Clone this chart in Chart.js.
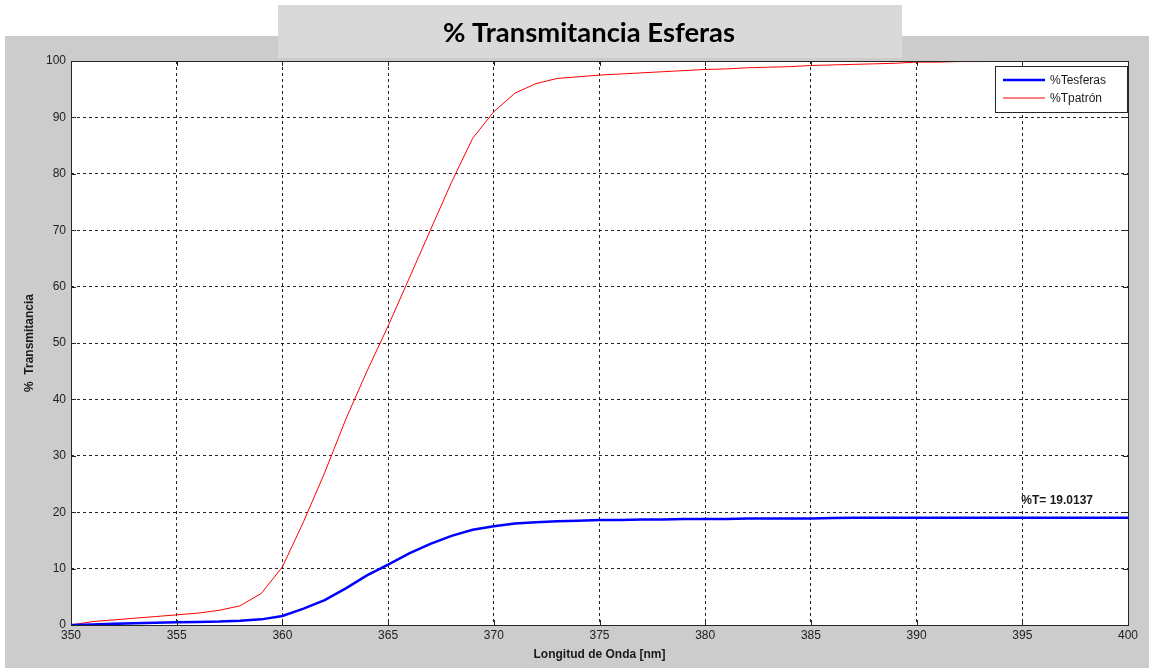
<!DOCTYPE html>
<html>
<head>
<meta charset="utf-8">
<title>% Transmitancia Esferas</title>
<script src="https://cdn.jsdelivr.net/npm/chart.js@4.4.1/dist/chart.umd.min.js"></script>
<style>
  html, body { margin: 0; padding: 0; background: #ffffff; }
  #wrap { position: relative; width: 1149px; height: 668px; }
</style>
</head>
<body>
<div id="wrap"><canvas id="c"></canvas></div>
<script>
// Wavelengths [nm]
const wavelengths = [350,351,352,353,354,355,356,357,358,359,360,361,362,363,364,365,366,367,368,369,370,371,372,373,374,375,376,377,378,379,380,381,382,383,384,385,386,387,388,389,390,391,392,393,394,395,396,397,398,399,400];

// %T of the spheres sample
const tEsferas = [0.0,0.1,0.2,0.3,0.4,0.5,0.55,0.6,0.75,1.0,1.6,2.9,4.4,6.5,8.8,10.7,12.7,14.4,15.8,16.9,17.5,18.0,18.2,18.4,18.5,18.6,18.6,18.7,18.7,18.8,18.8,18.8,18.9,18.9,18.9,18.9,18.95,19.0,19.0,19.0,19.0,19.0,19.0,19.01,19.01,19.0137,19.02,19.02,19.02,19.03,19.03];

// %T of the reference standard
const tPatron = [0.0,0.6,0.9,1.2,1.5,1.8,2.1,2.6,3.4,5.6,10.3,18.3,27.0,36.5,45.0,53.0,61.5,70.0,78.5,86.3,91.0,94.3,96.0,96.9,97.2,97.5,97.7,97.9,98.1,98.3,98.5,98.6,98.8,98.9,99.0,99.2,99.3,99.4,99.5,99.6,99.8,99.8,99.9,99.9,100.0,100.0,100.0,100.0,100.0,100.0,100.0];

const seriesLabels = ['%Tesferas', '%Tpatrón'];
const xTicks = [350,355,360,365,370,375,380,385,390,395,400];
const yTicks = [0,10,20,30,40,50,60,70,80,90,100];

// Marked reading on the sample curve
const markX = 395;
const markY = 19.0137;
const markText = '%T= ' + markY.toFixed(4);

const titleText = '% Transmitancia Esferas';
const xTitle = 'Longitud de Onda [nm]';
const yTitle = '%  Transmitancia';

const FONT = '"Liberation Sans", Arial, sans-serif';

const toPoints = (xs, ys) => xs.map((x, i) => ({ x: x, y: ys[i] }));

const framePlugin = {
  id: 'frame',
  beforeDraw(chart) {
    const ctx = chart.ctx;
    const a = chart.chartArea;
    ctx.save();
    ctx.fillStyle = '#ffffff';
    ctx.fillRect(0, 0, chart.width, chart.height);
    // figure background
    ctx.fillStyle = '#cccccc';
    ctx.fillRect(5, 36, chart.width - 5, chart.height - 36);
    // title box
    ctx.fillStyle = '#d9d9d9';
    ctx.fillRect(278, 5, 624, 53);
    // title text, fitted to a fixed width
    ctx.fillStyle = '#000000';
    ctx.font = 'bold 26px Lato, "Open Sans", sans-serif';
    ctx.textAlign = 'center';
    ctx.textBaseline = 'middle';
    const w = ctx.measureText(titleText).width;
    const sx = 292 / w;
    ctx.translate(589, 34);
    ctx.scale(sx, 1);
    ctx.fillText(titleText, 0, 0);
    ctx.setTransform(1, 0, 0, 1, 0, 0);
    // plot area
    ctx.fillStyle = '#ffffff';
    ctx.fillRect(a.left, a.top, a.right - a.left, a.bottom - a.top);
    ctx.restore();
  },
  afterDatasetsDraw(chart) {
    const ctx = chart.ctx;
    const a = chart.chartArea;
    const xs = chart.scales.x;
    const ys = chart.scales.y;
    ctx.save();
    // axes box
    ctx.strokeStyle = '#262626';
    ctx.lineWidth = 1;
    ctx.setLineDash([]);
    ctx.strokeRect(Math.round(a.left) + 0.5, Math.round(a.top) + 0.5,
                   Math.round(a.right - a.left), Math.round(a.bottom - a.top));
    // inward tick marks
    const tl = 5;
    ctx.beginPath();
    xTicks.forEach(v => {
      const px = Math.round(xs.getPixelForValue(v)) + 0.5;
      ctx.moveTo(px, a.bottom); ctx.lineTo(px, a.bottom - tl);
      ctx.moveTo(px, a.top); ctx.lineTo(px, a.top + tl);
    });
    yTicks.forEach(v => {
      const py = Math.round(ys.getPixelForValue(v)) + 0.5;
      ctx.moveTo(a.left, py); ctx.lineTo(a.left + tl, py);
      ctx.moveTo(a.right, py); ctx.lineTo(a.right - tl, py);
    });
    ctx.stroke();

    // annotation of the marked reading
    ctx.fillStyle = '#1a1a1a';
    ctx.font = 'bold 12px ' + FONT;
    ctx.textAlign = 'left';
    ctx.textBaseline = 'alphabetic';
    ctx.fillText(markText, xs.getPixelForValue(markX) - 1, ys.getPixelForValue(markY) - 14);

    // legend
    const lx = 995, ly = 66, lw = 132, lh = 46;
    ctx.fillStyle = '#ffffff';
    ctx.fillRect(lx, ly, lw, lh);
    ctx.strokeStyle = '#262626';
    ctx.lineWidth = 1;
    ctx.strokeRect(lx + 0.5, ly + 0.5, lw, lh);
    chart.data.datasets.forEach((ds, i) => {
      const yy = ly + 14 + i * 18;
      ctx.strokeStyle = ds.borderColor;
      ctx.lineWidth = ds.borderWidth;
      ctx.beginPath();
      ctx.moveTo(lx + 8, yy);
      ctx.lineTo(lx + 50, yy);
      ctx.stroke();
      ctx.fillStyle = '#1a1a1a';
      ctx.font = '12px ' + FONT;
      ctx.textBaseline = 'middle';
      ctx.fillText(ds.label, lx + 55, yy + 1);
    });

    // axis titles
    ctx.fillStyle = '#1a1a1a';
    ctx.font = 'bold 12px ' + FONT;
    ctx.textAlign = 'center';
    ctx.textBaseline = 'middle';
    ctx.fillText(xTitle, (a.left + a.right) / 2, 655);
    ctx.translate(30, (a.top + a.bottom) / 2);
    ctx.rotate(-Math.PI / 2);
    ctx.fillText(yTitle, 0, 0);
    ctx.restore();
  }
};

const tickFont = { family: FONT, size: 12 };

new Chart(document.getElementById('c'), {
  type: 'line',
  data: {
    datasets: [
      {
        label: seriesLabels[0],
        data: toPoints(wavelengths, tEsferas),
        borderColor: '#0000ff',
        borderWidth: 2.5,
        pointRadius: 0,
        tension: 0,
        fill: false
      },
      {
        label: seriesLabels[1],
        data: toPoints(wavelengths, tPatron),
        borderColor: '#ff0000',
        borderWidth: 1,
        pointRadius: 0,
        tension: 0,
        fill: false
      }
    ]
  },
  options: {
    responsive: true,
    maintainAspectRatio: false,
    animation: false,
    devicePixelRatio: 1,
    layout: { padding: { left: 0, right: 21, top: 61, bottom: 0 } },
    plugins: {
      legend: { display: false },
      title: { display: false },
      tooltip: { enabled: false }
    },
    scales: {
      x: {
        type: 'linear',
        min: 350,
        max: 400,
        afterBuildTicks: s => { s.ticks = xTicks.map(v => ({ value: v })); },
        afterFit: s => { s.height = 43; },
        ticks: { font: tickFont, color: '#222222', padding: 3, maxRotation: 0, autoSkip: false },
        grid: { color: 'rgba(0,0,0,0.85)', lineWidth: 1, drawTicks: false },
        border: { display: false, dash: [3, 3] }
      },
      y: {
        type: 'linear',
        min: 0,
        max: 100,
        afterBuildTicks: s => { s.ticks = yTicks.map(v => ({ value: v })); },
        afterFit: s => { s.width = 71; },
        ticks: { font: tickFont, color: '#222222', padding: 5, autoSkip: false },
        grid: { color: 'rgba(0,0,0,0.85)', lineWidth: 1, drawTicks: false },
        border: { display: false, dash: [3, 3] }
      }
    }
  },
  plugins: [framePlugin]
});
</script>
</body>
</html>
